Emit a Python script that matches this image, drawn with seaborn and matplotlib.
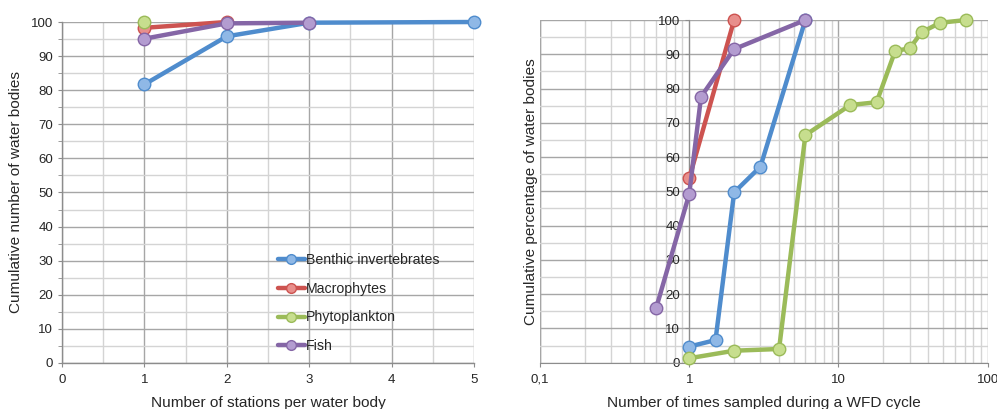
import matplotlib
matplotlib.use("Agg")
import matplotlib.pyplot as plt
import matplotlib.ticker as mticker
import seaborn as sns
import numpy as np

sns.set_style("white")
plt.rcParams['font.family'] = ['Liberation Sans', 'DejaVu Sans']

# ---- Left panel data: stations per water body ----
left_series = ["Benthic invertebrates", "Macrophytes", "Phytoplankton", "Fish"]
benthic_x = [1, 2, 3, 5]
benthic_y = [81.7, 95.8, 99.8, 100]
macro_x = [1, 2]
macro_y = [98.3, 100]
phyto_x = [1]
phyto_y = [100]
fish_x = [1, 2, 3]
fish_y = [95.1, 99.6, 99.8]

# ---- Right panel data: times sampled during WFD cycle ----
r_benthic_x = [1, 1.5, 2, 3, 6]
r_benthic_y = [4.7, 6.6, 49.7, 57.2, 100]
r_macro_x = [1, 2]
r_macro_y = [53.8, 100]
r_phyto_x = [1, 2, 4, 6, 12, 18, 24, 30, 36, 48, 72]
r_phyto_y = [1.3, 3.5, 4.0, 66.4, 75.2, 76.0, 91.0, 91.7, 96.4, 99.2, 100]
r_fish_x = [0.6, 1, 1.2, 2, 6]
r_fish_y = [15.9, 49.2, 77.6, 91.5, 100]

left_xticks = [0, 1, 2, 3, 4, 5]
yticks = [0, 10, 20, 30, 40, 50, 60, 70, 80, 90, 100]
right_xtick_labels = ["0,1", "1", "10", "100"]

line_cols = ["#4F8CCD", "#CD5350", "#9BBB59", "#8566A6"]
face_cols = ["#8FB8E6", "#E88F8C", "#C7DE8E", "#B39CD0"]

fig = plt.figure(figsize=(9.97, 4.09), dpi=100)
axL = fig.add_axes([0.0622, 0.1125, 0.4132, 0.8337])
axR = fig.add_axes([0.5416, 0.1132, 0.4491, 0.8379])

major_c = "#A6A6A6"
minor_c = "#D4D4D4"
tick_fs = 9.5
lab_fs = 11.1

def draw(ax, xs, ys, i, label=None):
    sns.lineplot(x=xs, y=ys, ax=ax, color=line_cols[i], linewidth=3.2,
                 marker='o', markersize=9, markerfacecolor=face_cols[i],
                 markeredgecolor=line_cols[i], markeredgewidth=1.0,
                 label=label, legend=False, sort=False, zorder=3 + i,
                 clip_on=False)

# Left
lx = [benthic_x, macro_x, phyto_x, fish_x]
ly = [benthic_y, macro_y, phyto_y, fish_y]
for i in range(4):
    draw(axL, lx[i], ly[i], i, left_series[i])
axL.set_xlim(0, 5)
axL.set_ylim(0, 100)
axL.set_xticks(left_xticks)
axL.set_yticks(yticks)
axL.xaxis.set_minor_locator(mticker.MultipleLocator(0.5))
axL.yaxis.set_minor_locator(mticker.MultipleLocator(5))
axL.grid(True, which='major', color=major_c, linewidth=1.0)
axL.grid(True, which='minor', color=minor_c, linewidth=1.0)
axL.set_axisbelow(True)
for s in ['top', 'right']:
    axL.spines[s].set_visible(False)
for s in ['left', 'bottom']:
    axL.spines[s].set_color("#8C8C8C")
    axL.spines[s].set_linewidth(1.0)
axL.tick_params(axis='both', which='both', direction='out', length=3,
                color="#8C8C8C", labelsize=tick_fs, left=True, bottom=True)
axL.tick_params(axis='x', which='major', pad=5)
axL.tick_params(axis='x', which='minor', length=0)
axL.set_xlabel("Number of stations per water body", fontsize=lab_fs, labelpad=7)
axL.set_ylabel("Cumulative number of water bodies", fontsize=lab_fs)
axL.yaxis.set_label_coords(-0.095, 0.5)
leg = axL.legend(loc='upper left', bbox_to_anchor=(0.51, 0.34), frameon=False,
                 fontsize=10.2, handlelength=1.9, handletextpad=0.1,
                 labelspacing=1.05, borderaxespad=0)
for h in leg.legend_handles:
    h.set_markersize(7)

# Right
rx = [r_benthic_x, r_macro_x, r_phyto_x, r_fish_x]
ry = [r_benthic_y, r_macro_y, r_phyto_y, r_fish_y]
for i in range(4):
    draw(axR, rx[i], ry[i], i)
axR.set_xscale('log')
axR.set_xlim(0.1, 100)
axR.set_ylim(0, 100)
axR.set_xticks([0.1, 1, 10, 100])
axR.set_xticklabels(right_xtick_labels)
axR.xaxis.set_minor_locator(mticker.LogLocator(base=10, subs=np.arange(2, 10)))
axR.xaxis.set_minor_formatter(mticker.NullFormatter())
axR.set_yticks(yticks)
axR.set_yticklabels(["0", "10", "20", "30", "40", "50", "60", "70", "80", "90", "100"])
axR.yaxis.set_minor_locator(mticker.MultipleLocator(5))
axR.grid(True, which='major', color=major_c, linewidth=1.0)
axR.grid(True, which='minor', color=minor_c, linewidth=1.0)
axR.set_axisbelow(True)
axR.spines['left'].set_position(('data', 1))
axR.spines['left'].set_color("#8C8C8C")
axR.spines['bottom'].set_color("#8C8C8C")
for s in ['top', 'right']:
    axR.spines[s].set_visible(False)
axR.tick_params(axis='both', which='both', direction='out', length=3,
                color="#8C8C8C", labelsize=tick_fs, left=True, bottom=True)
axR.tick_params(axis='x', which='major', pad=5)
axR.tick_params(axis='x', which='minor', length=0)
axR.tick_params(axis='y', which='minor', length=0)
# left edge line of frame at x=0.1
axR.axvline(0.1, color=major_c, linewidth=1.0, zorder=0.5)
axR.set_xlabel("Number of times sampled during a WFD cycle", fontsize=lab_fs, labelpad=7)
axR.set_ylabel("Cumulative percentage of water bodies", fontsize=lab_fs)
axR.yaxis.set_label_coords(-0.004, 0.5)

fig.savefig("out.png", dpi=100)
